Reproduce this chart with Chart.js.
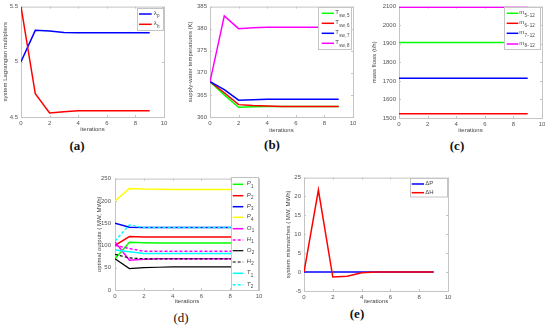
<!DOCTYPE html>
<html><head><meta charset="utf-8">
<script src="https://cdn.jsdelivr.net/npm/chart.js@4.4.1/dist/chart.umd.min.js"></script>
<style>
html,body{margin:0;padding:0;background:#fff;}
body{width:550px;height:329px;position:relative;overflow:hidden;}
canvas{position:absolute;}
.cap{position:absolute;width:40px;text-align:center;font-family:"Liberation Serif","DejaVu Serif",serif;font-size:13px;line-height:16px;color:#111;}
</style></head><body>
<script>
// ---------- shared ----------
const iterations = [0,1,2,3,4,5,6,7,8,9];
const xTicks = [0,2,4,6,8,10];
const xTitle = 'iterations';

// ---------- (a) ----------
const aLambdaP = [5.0, 5.285, 5.28, 5.266, 5.264, 5.264, 5.264, 5.264, 5.264, 5.264];
const aLambdaH = [5.5, 4.71, 4.536, 4.548, 4.557, 4.557, 4.557, 4.557, 4.557, 4.557];
const aYTicks = [4.5, 5, 5.5];
const aYTitle = 'system Lagrangian multipliers';
const aLabels = [['λ','p'], ['λ','h']];

// ---------- (b) ----------
const bT5 = [368, 365.0, 362.2, 362.3, 362.4, 362.4, 362.4, 362.4, 362.4, 362.4];
const bT6 = [368, 365.5, 362.8, 362.6, 362.5, 362.4, 362.4, 362.4, 362.4, 362.4];
const bT7 = [368, 366.2, 363.8, 363.9, 364.0, 364.0, 364.0, 364.0, 364.0, 364.0];
const bT8 = [368, 382.9, 380.0, 380.2, 380.3, 380.3, 380.3, 380.3, 380.3, 380.3];
const bYTicks = [360, 365, 370, 375, 380, 385];
const bYTitle = 'supply-water temperatures (K)';
const bLabels = [['T','sw, 5'], ['T','sw, 6'], ['T','sw, 7'], ['T','sw, 8']];

// ---------- (c) ----------
const cM5 = [1907, 1907, 1907, 1907, 1907, 1907, 1907, 1907, 1907, 1907];
const cM6 = [1523, 1523, 1523, 1523, 1523, 1523, 1523, 1523, 1523, 1523];
const cM7 = [1714, 1714, 1714, 1714, 1714, 1714, 1714, 1714, 1714, 1714];
const cM8 = [2097, 2097, 2097, 2097, 2097, 2097, 2097, 2097, 2097, 2097];
const cYTicks = [1500, 1600, 1700, 1800, 1900, 2000, 2100];
const cYTitle = 'mass flows (t/h)';
const cLabels = [['m','5−12'], ['m','6−12'], ['m','7−12'], ['m','8−12']];

// ---------- (d) ----------
const dP1 = [70, 107, 106, 105.5, 105.5, 105.5, 105.5, 105.5, 105.5, 105.5];
const dP2 = [100, 120, 119, 119, 118.7, 118.7, 118.7, 118.7, 118.7, 118.7];
const dP3 = [150, 141, 140, 140, 140, 140, 140, 140, 140, 140];
const dP4 = [200, 228, 226.5, 226, 225.7, 225.7, 225.7, 225.7, 225.7, 225.7];
const dO1 = [108, 67, 69, 70, 70, 70, 70, 70, 70, 70];
const dH1 = [100, 93, 87, 87, 87, 87, 87, 87, 87, 87];
const dO2 = [70, 48, 50, 51, 52, 52, 52, 52, 52, 52];
const dH2 = [80, 72, 70, 70, 70, 70, 70, 70, 70, 70];
const dT1 = [90, 86, 82, 82, 82, 82, 82, 82, 82, 82];
const dT2 = [110, 146, 140, 140, 140, 140, 140, 140, 140, 140];
const dYTicks = [0, 50, 100, 150, 200, 250];
const dYTitle = 'optimal outputs ( MW, MWh)';
const dLabels = [['P','1'],['P','2'],['P','3'],['P','4'],['O','1'],['H','1'],['O','2'],['H','2'],['T','1'],['T','2']];

// ---------- (e) ----------
const eDP = [0, 0, 0, 0, 0, 0, 0, 0, 0, 0];
const eDH = [0, 21.7, -1.3, -1.1, -0.2, 0, 0, 0, 0, 0];
const eYTicks = [-5, 0, 5, 10, 15, 20, 25];
const eYTitle = 'system mismatches ( MW, MWh)';
const eLabels = [['ΔP',''], ['ΔH','']];

const captions = ['(a)','(b)','(c)','(d)','(e)'];

// ---------- styling ----------
const FONT = '"Liberation Sans", Arial, sans-serif';
const tickColor = '#555';
const frameColor = '#c4c4c4';

const framePlugin = {
  id: 'frame',
  beforeDatasetsDraw(chart) {
    const {ctx, chartArea: a} = chart;
    const xs = chart.scales.x, ys = chart.scales.y;
    ctx.save();
    ctx.strokeStyle = frameColor; ctx.lineWidth = 1;
    ctx.strokeRect(a.left + 0.5, a.top + 0.5, a.right - a.left, a.bottom - a.top);
    ctx.beginPath();
    xs.ticks.forEach(t => {
      const p = Math.round(xs.getPixelForValue(t.value)) + 0.5;
      ctx.moveTo(p, a.bottom); ctx.lineTo(p, a.bottom - 2);
      ctx.moveTo(p, a.top); ctx.lineTo(p, a.top + 2);
    });
    ys.ticks.forEach(t => {
      const p = Math.round(ys.getPixelForValue(t.value)) + 0.5;
      ctx.moveTo(a.left, p); ctx.lineTo(a.left + 2, p);
      ctx.moveTo(a.right, p); ctx.lineTo(a.right - 2, p);
    });
    ctx.stroke();
    ctx.restore();
  }
};

const legendPlugin = {
  id: 'legendBox',
  afterDraw(chart, args, o) {
    if (!o || !o.rows) return;
    const ctx = chart.ctx, ox = o.offset[0], oy = o.offset[1];
    const [x1, y1, x2, y2] = o.box;
    ctx.save();
    ctx.fillStyle = '#fff';
    ctx.fillRect(x1 - ox, y1 - oy, x2 - x1, y2 - y1);
    ctx.strokeStyle = frameColor; ctx.lineWidth = 1;
    ctx.strokeRect(x1 - ox + 0.5, y1 - oy + 0.5, x2 - x1 - 1, y2 - y1 - 1);
    chart.data.datasets.forEach((ds, i) => {
      const y = o.rows[i] - oy;
      ctx.strokeStyle = ds.borderColor; ctx.lineWidth = ds.borderWidth;
      ctx.setLineDash(ds.borderDash || []);
      ctx.beginPath(); ctx.moveTo(o.line[0] - ox, y); ctx.lineTo(o.line[1] - ox, y); ctx.stroke();
      ctx.setLineDash([]);
      ctx.fillStyle = '#444'; ctx.textBaseline = 'middle'; ctx.textAlign = 'left';
      const [main, sub] = ds.labelParts;
      ctx.font = (o.italic ? 'italic ' : '') + '6px ' + FONT;
      ctx.fillText(main, o.textX - ox, y - 0.5);
      if (sub) {
        const w = ctx.measureText(main).width;
        ctx.font = '4.5px ' + FONT;
        ctx.fillText(sub, o.textX - ox + w + 0.3, y + 2);
      }
    });
    ctx.restore();
  }
};

function series(arr) { return iterations.map((x, i) => ({x: x, y: arr[i]})); }

function panel(p) {
  const padTop = Math.min(6, p.area.t), padRight = 8;
  const left = p.area.l - p.yw, top = p.area.t - padTop;
  const w = p.area.r - left + padRight, h = p.area.b + p.xh - top;
  const c = document.createElement('canvas');
  c.width = w; c.height = h;
  c.style.left = left + 'px'; c.style.top = top + 'px';
  c.style.width = w + 'px'; c.style.height = h + 'px';
  document.body.appendChild(c);
  const datasets = p.sets.map((s, i) => ({
    data: series(s.data), labelParts: s.label, borderColor: s.color,
    borderWidth: s.width || 1.5, borderDash: s.dash || [], pointRadius: 0,
    tension: 0, fill: false, order: -i
  }));
  const tickFont = {family: FONT, size: 6};
  new Chart(c, {
    type: 'line',
    data: {datasets},
    plugins: [framePlugin, legendPlugin],
    options: {
      responsive: false, animation: false, devicePixelRatio: 1,
      layout: {padding: {top: padTop, right: padRight, left: 0, bottom: 0}},
      plugins: {
        legend: {display: false}, tooltip: {enabled: false},
        legendBox: Object.assign({offset: [left, top]}, p.legend)
      },
      scales: {
        x: {
          type: 'linear', min: 0, max: 10,
          afterBuildTicks: s => { s.ticks = xTicks.map(v => ({value: v})); },
          afterFit: s => { s.height = p.xh; },
          grid: {display: false, drawTicks: false}, border: {display: false},
          ticks: {padding: 3, font: tickFont, color: tickColor, maxRotation: 0, autoSkip: false, callback: v => String(v)},
          title: {display: true, text: xTitle, font: tickFont, color: '#444', padding: 0}
        },
        y: {
          type: 'linear', min: p.yTicks[0], max: p.yTicks[p.yTicks.length - 1],
          afterBuildTicks: s => { s.ticks = p.yTicks.map(v => ({value: v})); },
          afterFit: s => { s.width = p.yw; },
          grid: {display: false, drawTicks: false}, border: {display: false},
          ticks: {padding: p.yPad || 3, font: tickFont, color: tickColor, autoSkip: false, callback: v => String(v)},
          title: {display: true, text: p.yTitle, font: tickFont, color: '#444', padding: 0}
        }
      }
    }
  });
}

const BLUE = '#0000ff', RED = '#ff0000', GREEN = '#00ff00', MAG = '#ff00ff',
      YEL = '#ffff00', CYAN = '#00ffff', BLACK = '#000000';

panel({
  area: {l: 21, r: 164, t: 6, b: 117}, yw: 19, xh: 16,
  yTicks: aYTicks, yTitle: aYTitle,
  sets: [{data: aLambdaP, color: BLUE, label: aLabels[0]}, {data: aLambdaH, color: RED, label: aLabels[1]}],
  legend: {box: [137, 8, 164, 31], rows: [14, 24.3], line: [139, 151.7], textX: 153.7}
});
panel({
  area: {l: 210, r: 353, t: 5, b: 117}, yw: 23, xh: 17,
  yTicks: bYTicks, yTitle: bYTitle,
  sets: [{data: bT5, color: GREEN, label: bLabels[0]}, {data: bT6, color: RED, label: bLabels[1]},
         {data: bT7, color: BLUE, label: bLabels[2]}, {data: bT8, color: MAG, label: bLabels[3]}],
  legend: {box: [318, 7, 352, 50], rows: [13.3, 23.3, 33.3, 43.3], line: [321.7, 334], textX: 335.3}
});
panel({
  area: {l: 399, r: 542, t: 6, b: 118}, yw: 28, xh: 16,
  yTicks: cYTicks, yTitle: cYTitle,
  sets: [{data: cM5, color: GREEN, label: cLabels[0]}, {data: cM6, color: RED, label: cLabels[1]},
         {data: cM7, color: BLUE, label: cLabels[2]}, {data: cM8, color: MAG, label: cLabels[3]}],
  legend: {box: [504, 7, 541, 50], rows: [13.3, 23.3, 33.3, 44], line: [506.7, 518.3], textX: 519.3}
});
panel({
  area: {l: 115, r: 259, t: 177, b: 290}, yw: 19, xh: 15, yPad: 4,
  yTicks: dYTicks, yTitle: dYTitle,
  sets: [
    {data: dP1, color: GREEN, label: dLabels[0]},
    {data: dP2, color: RED, label: dLabels[1]},
    {data: dP3, color: BLUE, label: dLabels[2]},
    {data: dP4, color: YEL, label: dLabels[3]},
    {data: dO1, color: MAG, label: dLabels[4]},
    {data: dH1, color: MAG, dash: [3, 2], label: dLabels[5]},
    {data: dO2, color: BLACK, width: 1.2, label: dLabels[6]},
    {data: dH2, color: BLACK, width: 1.2, dash: [3, 2], label: dLabels[7]},
    {data: dT1, color: CYAN, label: dLabels[8]},
    {data: dT2, color: CYAN, dash: [3, 2], label: dLabels[9]}
  ],
  legend: {box: [231, 177, 259, 291], rows: [184.3, 195.7, 206.7, 217.3, 228.7, 240, 250.7, 262, 273.3, 284.7],
           line: [232.7, 243.3], textX: 246.7, italic: true}
});
panel({
  area: {l: 304, r: 448, t: 177, b: 291}, yw: 19, xh: 14,
  yTicks: eYTicks, yTitle: eYTitle,
  sets: [{data: eDP, color: BLUE, label: eLabels[0]}, {data: eDH, color: RED, label: eLabels[1]}],
  legend: {box: [410, 178, 448, 197.5], rows: [184, 192.7], line: [411.7, 424], textX: 425.3}
});

// captions
const capPos = [[77, 146, 'bold'], [272, 144.5, 'bold'], [457, 146, 'bold'], [181, 317.5, 'normal'], [357, 314.3, 'bold']];
captions.forEach((t, i) => {
  const d = document.createElement('div');
  d.className = 'cap';
  d.textContent = t;
  d.style.left = (capPos[i][0] - 20) + 'px';
  d.style.top = (capPos[i][1] - 8) + 'px';
  d.style.fontWeight = capPos[i][2];
  document.body.appendChild(d);
});
</script>
</body></html>
